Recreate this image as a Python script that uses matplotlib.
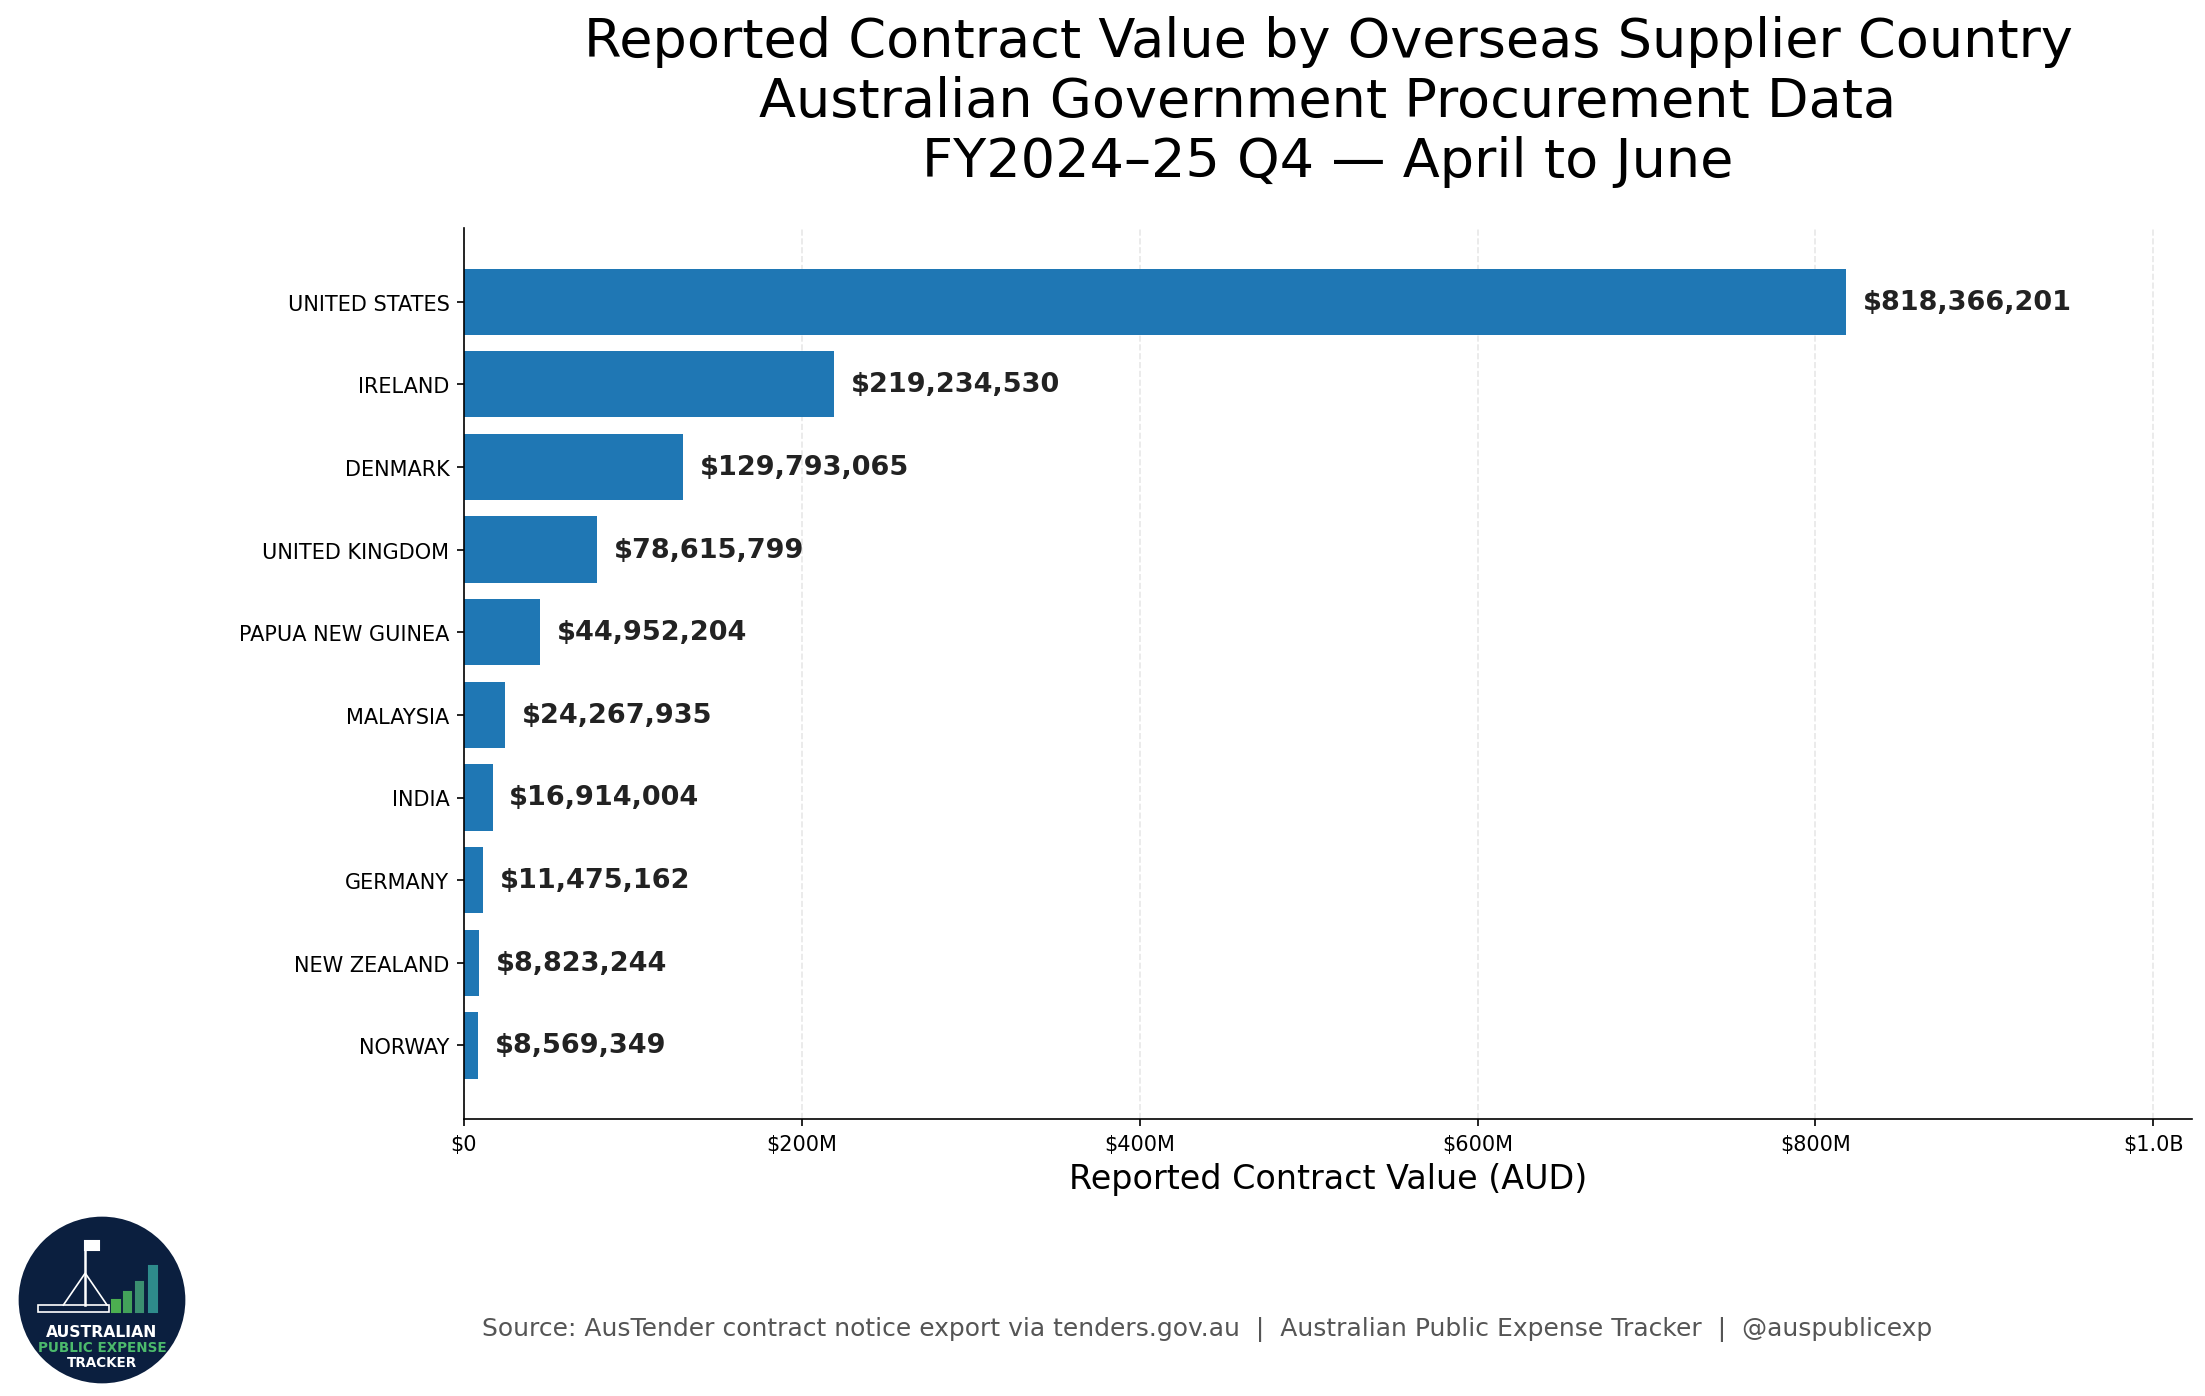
import matplotlib.pyplot as plt
import matplotlib as mpl
from matplotlib.patches import Circle, Rectangle
from matplotlib.ticker import FuncFormatter

countries = [
    "UNITED STATES",
    "IRELAND",
    "DENMARK",
    "UNITED KINGDOM",
    "PAPUA NEW GUINEA",
    "MALAYSIA",
    "INDIA",
    "GERMANY",
    "NEW ZEALAND",
    "NORWAY",
]
values = [
    818366201,
    219234530,
    129793065,
    78615799,
    44952204,
    24267935,
    16914004,
    11475162,
    8823244,
    8569349,
]
xticks = [0, 200e6, 400e6, 600e6, 800e6, 1.0e9]


def money_fmt(x, pos=None):
    if x == 0:
        return "$0"
    if x >= 1e9:
        return f"${x / 1e9:.1f}B"
    return f"${x / 1e6:.0f}M"


fig = plt.figure(figsize=(14.7, 9.313), dpi=150)
ax = fig.add_axes([464 / 2205, 1 - 1120 / 1397, (2192 - 464) / 2205, (1120 - 229) / 1397])

ypos = list(range(len(countries)))
ax.barh(ypos, values, color="#1f77b4", height=0.8, zorder=2)
ax.set_yticks(ypos)
ax.set_yticklabels(countries, fontsize=10)
ax.invert_yaxis()
ax.set_xlim(0, max(values) * 1.25)
ax.set_xticks(xticks)
ax.xaxis.set_major_formatter(FuncFormatter(money_fmt))
ax.tick_params(axis="x", labelsize=10)
ax.grid(axis="x", linestyle="--", color="#dddddd", alpha=0.7, zorder=0)
ax.spines["top"].set_visible(False)
ax.spines["right"].set_visible(False)
ax.set_xlabel("Reported Contract Value (AUD)", fontsize=16)

for y, v in zip(ypos, values):
    ax.text(v + max(values) * 0.012, y, f"${v:,.0f}", va="center", ha="left",
            fontsize=13, fontweight="bold", color="#222222")

ax.set_title(
    "Reported Contract Value by Overseas Supplier Country\n"
    "Australian Government Procurement Data\n"
    "FY2024\u201325 Q4 \u2014 April to June",
    fontsize=26, pad=25,
)

fig.text(1207 / 2205, 1 - 1330 / 1397, "Source: AusTender contract notice export via tenders.gov.au  |  "
         "Australian Public Expense Tracker  |  @auspublicexp",
         ha="center", va="center", fontsize=12, color="#555555")

# logo
lax = fig.add_axes([18 / 2205, 1 - 1385 / 1397, 168 / 2205, 168 / 1397])
lax.set_xlim(0, 1)
lax.set_ylim(0, 1)
lax.set_aspect("equal")
lax.axis("off")
lax.add_patch(Circle((0.5, 0.5), 0.49, color="#0b1f3f"))
for bx, bh, bc in [(0.56, 0.07, "#4caf50"), (0.63, 0.12, "#43a25a"),
                   (0.7, 0.18, "#3b8f70"), (0.78, 0.27, "#2e8b8b")]:
    lax.add_patch(Rectangle((bx, 0.43), 0.045, bh, color=bc))
lax.add_patch(Rectangle((0.12, 0.43), 0.42, 0.04, fill=False, ec="white", lw=0.8))
lax.plot([0.4, 0.4], [0.47, 0.85], color="white", lw=1.2)
lax.plot([0.27, 0.4, 0.53], [0.47, 0.66, 0.47], color="white", lw=0.8)
lax.add_patch(Rectangle((0.4, 0.8), 0.08, 0.05, color="white"))
lax.text(0.5, 0.31, "AUSTRALIAN", ha="center", va="center", fontsize=7.5, fontweight="bold", color="white")
lax.text(0.5, 0.22, "PUBLIC EXPENSE", ha="center", va="center", fontsize=6.5, fontweight="bold", color="#4cbb6c")
lax.text(0.5, 0.13, "TRACKER", ha="center", va="center", fontsize=6.5, fontweight="bold", color="white")

fig.savefig("out.png", dpi=150)
